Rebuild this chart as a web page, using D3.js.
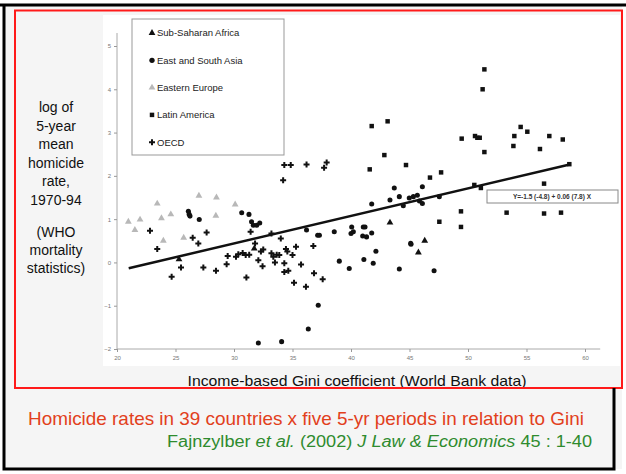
<!DOCTYPE html>
<html>
<head>
<meta charset="utf-8">
<script src="https://cdn.jsdelivr.net/npm/d3@7.9.0/dist/d3.min.js"></script>
<style>
  body { margin: 0; background: #fff; }
  svg { display: block; font-family: "Liberation Sans", Arial, sans-serif; }
</style>
</head>
<body>
<div id="chart"></div>
<script>
// data: [gini, log homicide rate]
const subSaharan = [[43.33,0.92],[45.76,0.23],[46.3,0.50],[25.3,0.07],[31.73,0.32]];
const eastSouthAsia = [
  [43.7,1.72],[46.1,1.75],[44.13,1.52],[43.33,1.44],[44.98,1.49],[45.33,1.52],[45.67,1.55],
  [45.85,1.42],[46.1,1.36],[44.47,1.31],[47.55,1.52],[41.77,1.35],[40.06,0.82],[40.2,0.71],
  [40.0,0.67],[41.05,0.82],[41.2,0.82],[41.0,0.61],[41.33,0.59],[41.77,0.68],[45.1,0.44],
  [41.1,0.07],[41.9,-0.02],[42.13,0.26],[44.13,-0.15],[45.13,0.42],[47.1,-0.19],[38.57,0.71],
  [39.0,0.03],[39.85,-0.14],[26.1,1.18],[26.17,1.11],[26.24,1.07],[27.03,0.99],[30.66,1.15],
  [31.28,1.11],[31.5,0.94],[31.65,0.86],[31.94,0.86],[32.2,0.91],[32.08,-1.86],[34.07,-1.83],
  [36.35,-1.54],[37.2,-0.99],[36.2,0.75],[37.15,0.63],[37.3,0.63]
];
const easternEurope = [
  [20.97,0.94],[21.53,0.75],[21.97,0.99],[23.44,1.36],[23.8,1.02],[23.96,0.50],
  [24.6,1.11],[25.7,0.57],[27.0,1.54],[28.5,1.50],[28.45,1.08],[30.1,1.34]
];
const latinAmerica = [
  [51.4,4.46],[51.25,4.0],[41.77,3.15],[43.13,3.26],[42.85,2.48],[41.6,2.15],[44.7,2.25],
  [49.46,2.86],[50.6,2.92],[50.8,2.88],[51.0,2.88],[51.4,2.55],[53.96,2.92],[53.88,2.69],
  [54.5,3.13],[55.07,3.02],[56.15,2.62],[56.95,2.92],[58.1,2.84],[58.66,2.27],[56.5,1.82],
  [53.3,1.15],[56.5,1.13],[57.95,1.15],[46.75,1.96],[47.7,2.08],[49.4,1.18],[47.55,0.94],
  [49.4,0.82],[50.54,1.79],[51.1,1.72]
];
const oecd = [
  [22.82,0.73],[23.44,0.31],[24.67,-0.33],[25.47,-0.12],[26.47,0.57],[26.95,0.44],[27.38,-0.12],
  [27.66,0.69],[28.46,-0.19],[29.37,-0.04],[29.46,0.15],[30.17,0.13],[30.37,0.19],[30.74,0.22],
  [31.0,0.17],[31.06,-0.35],[31.3,0.18],[31.42,0.71],[31.8,0.44],[32.3,0.25],[32.44,-0.09],
  [32.5,0.30],[33.2,0.67],[33.2,0.21],[33.36,0.13],[33.5,0.0],[33.65,0.18],[33.87,0.17],
  [34.0,0.55],[34.2,1.90],[34.3,2.25],[34.3,-0.02],[34.3,-0.22],[34.44,0.31],[34.56,0.25],
  [34.64,-0.19],[34.85,2.25],[35.0,0.17],[35.13,-0.47],[35.3,0.36],[35.73,-0.05],[36.15,-0.56],
  [36.2,2.26],[36.78,0.38],[36.84,-0.25],[37.58,-0.39],[37.7,2.19],[37.92,2.31],[32.08,0.05]
];

const xTicks = [20, 25, 30, 35, 40, 45, 50, 55, 60];
const yTicks = [-2, -1, 0, 1, 2, 3, 4, 5];
const regIntercept = -1.47;
const regSlope = 0.0636;
const regRange = [21, 58.6];
const equationText = 'Y=-1.5 (-4.8) + 0.06 (7.8) X';
const yTitleLines = ['log of', '5-year', 'mean', 'homicide', 'rate,', '1970-94'];
const yNoteLines = ['(WHO', 'mortality', 'statistics)'];

const series = [
  { name: 'Sub-Saharan Africa', data: subSaharan, symbol: d3.symbolTriangle, color: '#111' },
  { name: 'East and South Asia', data: eastSouthAsia, symbol: d3.symbolCircle, color: '#111' },
  { name: 'Eastern Europe', data: easternEurope, symbol: d3.symbolTriangle, color: '#b8b8b8' },
  { name: 'Latin America', data: latinAmerica, symbol: d3.symbolSquare, color: '#111' },
  { name: 'OECD', data: oecd, symbol: d3.symbolCross, color: '#111' },
];

const width = 626, height = 474;
const svg = d3.select('#chart').append('svg')
  .attr('width', width).attr('height', height);

// slide background and frames
svg.append('rect').attr('x', 4).attr('y', 6).attr('width', 618).attr('height', 463).attr('fill', '#f5f5f5');
svg.append('rect').attr('x', 103).attr('y', 15).attr('width', 517).attr('height', 351).attr('fill', '#fff');

const x = d3.scaleLinear().domain([20, 60]).range([117, 585]);
const y = d3.scaleLinear().domain([-2, 5]).range([349, 46]);

// axes
const xAxis = svg.append('g')
  .attr('transform', `translate(0,${y(-2)})`)
  .call(d3.axisBottom(x).tickValues(xTicks).tickSize(3).tickSizeOuter(0).tickFormat(d3.format('d')));
xAxis.select('.domain').attr('d', `M${x(20)},0H${x(61.3)}`);
const yAxis = svg.append('g')
  .attr('transform', `translate(${x(20)},0)`)
  .call(d3.axisLeft(y).tickValues(yTicks).tickSize(3).tickSizeOuter(0).tickFormat(d3.format('d')));
yAxis.select('.domain').attr('d', `M0,${y(-2)}V${y(5.3)}`);
svg.selectAll('.domain').attr('stroke', '#aaa');
svg.selectAll('.tick line').attr('stroke', '#999');
svg.selectAll('.tick text').attr('fill', '#777').attr('font-size', 6).attr('font-family', 'Liberation Sans, Arial');
xAxis.selectAll('.tick text').attr('dy', '0.9em');

// legend
const legend = svg.append('g');
legend.append('rect').attr('x', 132).attr('y', 19).attr('width', 152).attr('height', 136)
  .attr('fill', '#fff').attr('stroke', '#999').attr('stroke-width', 1);
series.forEach((s, i) => {
  const ly = 33 + i * 27.3;
  legend.append('path')
    .attr('d', d3.symbol().type(s.symbol).size(s.symbol === d3.symbolCircle ? 22 : 20)())
    .attr('transform', `translate(152,${ly})`)
    .attr('fill', s.color);
  legend.append('text').attr('x', 157).attr('y', ly).attr('dy', '0.35em')
    .attr('font-size', 9.5).attr('fill', '#222').text(s.name);
});

// points
series.forEach(s => {
  svg.append('g').selectAll('path').data(s.data).join('path')
    .attr('d', d3.symbol().type(s.symbol).size(s.symbol === d3.symbolCross ? 20 : 20))
    .attr('transform', d => `translate(${x(d[0])},${y(d[1])})`)
    .attr('fill', s.color);
});

// regression line
const line = d3.line().x(d => x(d)).y(d => y(regIntercept + regSlope * d));
svg.append('path').datum(regRange).attr('d', line)
  .attr('fill', 'none').attr('stroke', '#111').attr('stroke-width', 2.5);

// equation box
svg.append('rect').attr('x', 487).attr('y', 190).attr('width', 131).attr('height', 13)
  .attr('fill', '#fff').attr('stroke', '#888');
svg.append('text').attr('x', 552).attr('y', 197).attr('dy', '0.35em')
  .attr('text-anchor', 'middle').attr('font-size', 6.5).attr('font-weight', 'bold')
  .attr('fill', '#333').text(equationText);

// y title
const yt = svg.append('g').attr('font-size', 14).attr('fill', '#111').attr('text-anchor', 'middle');
yTitleLines.forEach((t, i) => {
  yt.append('text').attr('x', 56).attr('y', 107 + i * 18.6).attr('dy', '0.35em').text(t);
});
yNoteLines.forEach((t, i) => {
  yt.append('text').attr('x', 56).attr('y', 232 + i * 18).attr('dy', '0.35em').text(t);
});

// x title
svg.append('text').attr('x', 357).attr('y', 381).attr('dy', '0.35em')
  .attr('text-anchor', 'middle').attr('font-size', 15).attr('fill', '#111')
  .attr('textLength', 339).attr('lengthAdjust', 'spacingAndGlyphs')
  .text('Income-based Gini coefficient (World Bank data)');

// red frame drawn over
svg.append('rect').attr('x', 15).attr('y', 10.5).attr('width', 607).attr('height', 377.5)
  .attr('fill', 'none').attr('stroke', '#ff1a1a').attr('stroke-width', 2);

// black frame
svg.append('path')
  .attr('d', 'M0,5H626M4,5V469H614V388')
  .attr('fill', 'none').attr('stroke', '#000').attr('stroke-width', 3);

// captions
svg.append('text').attr('x', 28).attr('y', 418).attr('dy', '0.35em')
  .attr('font-size', 19).attr('fill', '#e2401c')
  .attr('textLength', 556).attr('lengthAdjust', 'spacingAndGlyphs')
  .text('Homicide rates in 39 countries x five 5-yr periods in relation to Gini');
const cite = svg.append('text').attr('x', 167).attr('y', 441).attr('dy', '0.35em')
  .attr('font-size', 16).attr('fill', '#2e8b2e')
  .attr('textLength', 425).attr('lengthAdjust', 'spacingAndGlyphs');
cite.append('tspan').text('Fajnzylber ');
cite.append('tspan').attr('font-style', 'italic').text('et al.');
cite.append('tspan').text(' (2002) ');
cite.append('tspan').attr('font-style', 'italic').text('J Law & Economics');
cite.append('tspan').text(' 45 : 1-40');
</script>
</body>
</html>
